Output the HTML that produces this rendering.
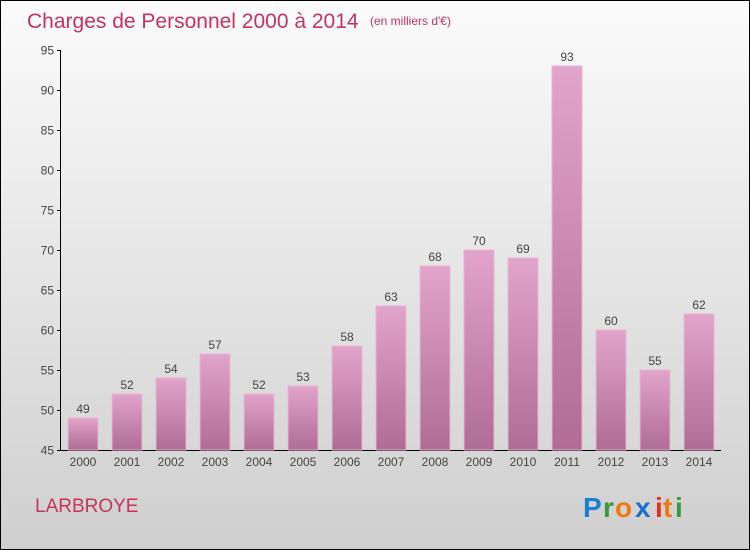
<!DOCTYPE html>
<html><head><meta charset="utf-8"><style>
body{margin:0;width:750px;height:550px;overflow:hidden}
svg{display:block;font-family:"Liberation Sans",sans-serif}
</style></head><body>
<svg width="750" height="550">
<defs>
<linearGradient id="bg" x1="0" y1="0" x2="0" y2="1"><stop offset="0" stop-color="#fbfbfb"/><stop offset="1" stop-color="#cfcfcf"/></linearGradient>
<linearGradient id="bar" x1="0" y1="0" x2="0" y2="1"><stop offset="0" stop-color="#e2a4cb"/><stop offset="1" stop-color="#b06c95"/></linearGradient>
</defs>
<rect x="0.5" y="0.5" width="749" height="549" fill="url(#bg)" stroke="#000"/>
<text x="27" y="28" font-size="21" fill="#c8325f">Charges de Personnel 2000 à 2014</text>
<text x="370" y="25" font-size="12" fill="#c8325f">(en milliers d'€)</text>
<g id="axes"></g>
<g id="bars"></g>
<text x="35" y="512" font-size="19" fill="#c8325f">LARBROYE</text>
<g font-size="28" font-weight="bold">
<text x="583" y="517" fill="#1a7fd4">P</text><text x="603" y="517" fill="#3a9a3a">r</text><text x="615" y="517" fill="#f07a10">o</text><text x="635" y="517" fill="#1a6fd0">x</text><text x="655" y="517" fill="#e03020">i</text><text x="663" y="517" fill="#f07a10">t</text><text x="675" y="517" fill="#3a9a3a">i</text>
</g>
</svg>
<script>
const categories=["2000","2001","2002","2003","2004","2005","2006","2007","2008","2009","2010","2011","2012","2013","2014"];
const values=[49,52,54,57,52,53,58,63,68,70,69,93,60,55,62];
const yTicks=[45,50,55,60,65,70,75,80,85,90,95];
const NS="http://www.w3.org/2000/svg";
const yMin=45,yMax=95,y0=450,y1=50,x0=61,x1=721;
const yS=v=>y0-(v-yMin)/(yMax-yMin)*(y0-y1);
const step=(x1-x0)/categories.length;
const xS=i=>x0+step*(i+0.5);
function mk(t,a,p){const e=document.createElementNS(NS,t);for(const k in a)e.setAttribute(k,a[k]);p.appendChild(e);return e;}
const ax=document.getElementById('axes'),bg=document.getElementById('bars');
let l=mk('line',{x1:60.5,y1:y1,x2:60.5,y2:y0,stroke:'#000'},ax);


l=mk('line',{x1:60,y1:y0+0.5,x2:x1,y2:y0+0.5,stroke:'#000'},ax);


yTicks.forEach(v=>{
 const y=Math.round(yS(v))+0.5;
 mk('line',{x1:57,y1:y,x2:61,y2:y,stroke:'#000'},ax);
 const t=mk('text',{x:54,y:y+4,'font-size':12,fill:'#444','text-anchor':'end'},ax);
 t.textContent=v;
 
 
});
categories.forEach((c,i)=>{
 const cx=xS(i),w=30;
 const r=mk('rect',{x:cx-w/2,y:yS(values[i]),width:w,height:y0-yS(values[i]),fill:'url(#bar)',stroke:'#eab4d4','stroke-width':1},bg);
 
 
 const v=mk('text',{x:cx,y:yS(values[i])-5,'font-size':12,fill:'#444','text-anchor':'middle'},bg);
 v.textContent=values[i];
 
 
 const t=mk('text',{x:cx,y:466,'font-size':12,fill:'#444','text-anchor':'middle'},bg);
 t.textContent=c;
 
 
});
</script>
</body></html>
